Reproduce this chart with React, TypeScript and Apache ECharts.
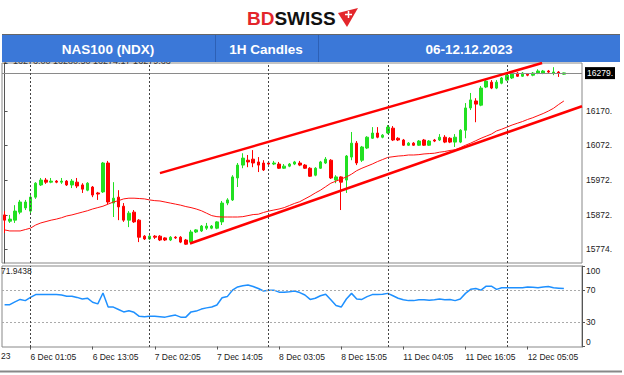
import React, { useEffect, useRef } from "react";
import * as echarts from "echarts";

// ---- data ----
const sessionDays = ["5 Dec", "6 Dec", "7 Dec", "8 Dec", "11 Dec", "12 Dec"];
const firstBar = "5 Dec 19:05";
const emptyBarsRight = 3;
const tickLabels = [
  "6 Dec 01:05", "6 Dec 13:05", "7 Dec 02:05", "7 Dec 14:05", "8 Dec 03:05",
  "8 Dec 15:05", "11 Dec 04:05", "11 Dec 16:05", "12 Dec 05:05",
];
const priceTicks = [15774, 15872, 15972, 16072, 16170];
const rsiTicks = [0, 30, 70, 100];
const rsiLevels = [70, 30];
const lastPrice = 16279;
const lastRsiText = "71.9438";
const yearStub = "23";
const infoText = "1  16276.00 16280.50 16274.17 16279.63";

// [open, close, low, high]
const candles = [
  [15872, 15857, 15820, 15883], [15854, 15860, 15849, 15872], [15857, 15883, 15849, 15900],
  [15880, 15909, 15874, 15915], [15892, 15909, 15886, 15915], [15883, 15923, 15877, 15929],
  [15923, 15963, 15918, 15966], [15958, 15972, 15955, 15978], [15972, 15966, 15961, 15978],
  [15966, 15969, 15963, 15978], [15969, 15966, 15963, 15972], [15966, 15969, 15961, 15978],
  [15969, 15958, 15955, 15972], [15958, 15969, 15949, 15975], [15966, 15955, 15949, 15978],
  [15958, 15946, 15935, 15963], [15943, 15963, 15940, 15966], [15952, 15929, 15923, 15955],
  [15935, 15932, 15915, 15938], [15938, 16021, 15935, 16024], [16021, 15909, 15903, 16027],
  [15906, 15920, 15866, 15966], [15923, 15895, 15857, 15943], [15897, 15857, 15852, 15906],
  [15857, 15877, 15837, 15883], [15880, 15852, 15849, 15886], [15857, 15808, 15794, 15860],
  [15811, 15803, 15800, 15814], [15803, 15811, 15800, 15814], [15811, 15808, 15803, 15814],
  [15811, 15800, 15797, 15814], [15806, 15800, 15797, 15808], [15800, 15808, 15797, 15811],
  [15808, 15806, 15803, 15811], [15808, 15794, 15791, 15811], [15800, 15788, 15786, 15803],
  [15794, 15823, 15791, 15829], [15823, 15829, 15820, 15831], [15826, 15840, 15823, 15843],
  [15834, 15840, 15829, 15849], [15834, 15840, 15831, 15843], [15834, 15852, 15831, 15854],
  [15852, 15906, 15843, 15912], [15906, 15915, 15900, 15920], [15915, 15981, 15912, 15986],
  [15978, 16015, 15952, 16021], [16015, 16035, 16006, 16049], [16029, 16024, 16009, 16044],
  [16032, 16021, 16009, 16058], [16024, 16015, 15995, 16038], [16021, 16001, 15998, 16029],
  [16021, 16018, 16015, 16024], [16018, 16021, 16015, 16027], [16018, 16006, 16004, 16024],
  [16006, 16012, 16004, 16018], [16012, 16018, 16009, 16021], [16018, 16024, 16015, 16027],
  [16021, 16015, 16012, 16027], [16015, 16006, 16004, 16018], [16006, 15983, 15981, 16009],
  [15986, 16006, 15983, 16009], [16006, 16024, 16004, 16027], [16021, 16032, 16018, 16038],
  [16029, 15978, 15975, 16032], [15972, 15981, 15963, 15986], [15981, 15966, 15886, 15983],
  [15972, 16041, 15935, 16044], [16038, 16078, 16029, 16110], [16078, 16021, 16015, 16084],
  [16029, 16067, 16024, 16070], [16064, 16095, 16061, 16098], [16092, 16107, 16090, 16124],
  [16107, 16095, 16092, 16124], [16095, 16101, 16092, 16104], [16107, 16124, 16104, 16130],
  [16121, 16087, 16084, 16127], [16092, 16087, 16084, 16095], [16087, 16072, 16070, 16090],
  [16072, 16078, 16070, 16081], [16078, 16072, 16070, 16081], [16072, 16084, 16070, 16087],
  [16087, 16072, 16070, 16090], [16072, 16084, 16070, 16087], [16087, 16084, 16081, 16090],
  [16087, 16095, 16084, 16104], [16095, 16081, 16078, 16101], [16092, 16081, 16078, 16095],
  [16081, 16095, 16067, 16104], [16081, 16115, 16078, 16118], [16115, 16179, 16092, 16193],
  [16179, 16202, 16173, 16222], [16199, 16190, 16138, 16207], [16187, 16236, 16184, 16242],
  [16239, 16256, 16236, 16259], [16253, 16236, 16233, 16259], [16236, 16253, 16233, 16259],
  [16250, 16265, 16247, 16268], [16259, 16273, 16256, 16276], [16265, 16279, 16262, 16285],
  [16279, 16270, 16268, 16282], [16270, 16279, 16268, 16282], [16276, 16273, 16270, 16279],
  [16273, 16279, 16270, 16282], [16279, 16285, 16276, 16290], [16279, 16285, 16276, 16288],
  [16285, 16282, 16279, 16288], [16279, 16282, 16273, 16296], [16282, 16279, 16268, 16285],
  [16276.0, 16279.63, 16274.17, 16280.5],
];

const maValues = [
  15829, 15826, 15826, 15826, 15830, 15834, 15843, 15849, 15853, 15857,
  15860, 15864, 15869, 15872, 15876, 15880, 15884, 15889, 15893, 15897,
  15903, 15909, 15913, 15918, 15920, 15920, 15919, 15918, 15915, 15913,
  15912, 15909, 15906, 15903, 15900, 15896, 15893, 15889, 15884, 15877,
  15870, 15867, 15866, 15866, 15866, 15866, 15867, 15870, 15873, 15874,
  15879, 15883, 15886, 15889, 15893, 15899, 15905, 15910, 15918, 15926,
  15935, 15943, 15953, 15963, 15969, 15975, 15981, 15989, 15999, 16006,
  16012, 16018, 16025, 16031, 16037, 16039, 16041, 16042, 16044, 16044,
  16045, 16047, 16048, 16049, 16052, 16054, 16057, 16059, 16065, 16072,
  16078, 16085, 16092, 16098, 16104, 16113, 16118, 16124, 16130, 16135,
  16140, 16146, 16151, 16157, 16163, 16170, 16178, 16189, 16199,
];

const rsiValues = [
  52, 52, 55.5, 58.5, 57, 61, 64.5, 64.5, 64.5, 64.5,
  64.5, 64, 62.5, 62.5, 61, 59, 60, 55, 53, 66.5,
  49, 49, 46, 43, 44.5, 42.5, 37.5, 37, 37.5, 37.5,
  37, 36.5, 38, 39, 36.5, 36.5, 43, 44, 46.5, 48,
  49, 51.5, 60.5, 62, 70, 74, 75.5, 76.5, 74.5, 72,
  69, 70, 70, 67.5, 67.5, 68, 69, 67, 64, 58.5,
  60, 63, 65, 58, 51, 49, 59, 66, 59, 58.5,
  62, 64.5, 64.5, 65, 66, 63, 60, 58, 57, 57,
  58, 58, 57.5, 58, 59, 58, 58.5, 57, 59, 66,
  71, 72, 70, 75, 75, 71, 73, 73, 73, 73,
  73, 74, 73.5, 73, 74, 74.5, 73, 72.5, 71.94,
];

// trend lines: [bar index, price]
const upperTrend = [[30, 15992], [103.8, 16308]];
const lowerTrend = [[35.8, 15790], [111.5, 16184]];

// ---- derived ----
const allSlots = sessionDays.flatMap((d) =>
  Array.from({ length: 23 }, (_, h) => `${d} ${String(h + 1).padStart(2, "0")}:05`)
);
const startIdx = allSlots.indexOf(firstBar);
const categories = allSlots.slice(startIdx, startIdx + candles.length + emptyBarsRight);
const dayStarts = categories.filter((c) => c.endsWith(" 01:05"));

const FONT = "Liberation Sans";
const GREEN = "#22e022";
const RED = "#ff0000";

export default function App() {
  const ref = useRef<HTMLDivElement>(null);
  useEffect(() => {
    if (!ref.current) return;
    const chart = echarts.init(ref.current, undefined, { renderer: "svg" });
    const vLines = (color: string) =>
      dayStarts.map((d) => ({
        xAxis: d,
        lineStyle: { color, type: [2, 2], width: 1 },
        label: { show: false },
      }));
    const rsiLabel = (v: number) =>
      Number(v) >= 100 ? `{t|${Math.round(v)}}` : Number(v) <= 0.5 ? `{b|0}` : `{m|${Math.round(v)}}`;
    const option: any = {
      animation: false,
      backgroundColor: "#fff",
      textStyle: { fontFamily: FONT },
      grid: [
        { left: 2, top: 63, width: 580, height: 200, show: true, borderColor: "#888", borderWidth: 1 },
        { left: 2, top: 266, width: 580, height: 81, show: true, borderColor: "#888", borderWidth: 1 },
      ],
      xAxis: [
        {
          type: "category", gridIndex: 0, data: categories, boundaryGap: true,
          axisLine: { show: false }, axisTick: { show: false }, axisLabel: { show: false }, splitLine: { show: false },
        },
        {
          type: "category", gridIndex: 1, data: categories, boundaryGap: true,
          axisLine: { show: false },
          axisTick: {
            show: true, alignWithLabel: true, length: 3, lineStyle: { color: "#555" },
            interval: (i: number, v: string) => tickLabels.includes(v),
          },
          axisLabel: {
            interval: (i: number, v: string) => tickLabels.includes(v),
            align: "left", fontSize: 8.5, color: "#222", margin: 5, fontFamily: FONT,
          },
          splitLine: { show: false },
        },
        { type: "value", gridIndex: 0, min: -0.5, max: categories.length - 0.5, show: false },
      ],
      yAxis: [
        {
          type: "value", gridIndex: 0, position: "right", min: 15734, max: 16308,
          splitLine: { show: false },
          axisLine: { show: true, lineStyle: { color: "#555" } },
          axisTick: { show: true, customValues: priceTicks, length: 3, lineStyle: { color: "#555" } },
          axisLabel: {
            customValues: priceTicks, formatter: (v: number) => `${v}.`,
            fontSize: 8.5, color: "#222", margin: 4, fontFamily: FONT,
          },
        },
        {
          type: "value", gridIndex: 1, position: "right", min: -0.6, max: 100,
          splitLine: { show: false },
          axisLine: { show: true, lineStyle: { color: "#555" } },
          axisTick: { show: true, customValues: rsiTicks, length: 3, lineStyle: { color: "#555" } },
          axisLabel: {
            customValues: rsiTicks.map((v) => (v === 0 ? 0.1 : v)),
            showMinLabel: true, showMaxLabel: true,
            formatter: rsiLabel,
            rich: {
              t: { padding: [9, 0, 0, 0], fontSize: 8.5, color: "#222", fontFamily: FONT },
              b: { padding: [0, 0, 9, 0], fontSize: 8.5, color: "#222", fontFamily: FONT },
              m: { fontSize: 8.5, color: "#222", fontFamily: FONT },
            },
            margin: 4,
          },
        },
      ],
      series: [
        {
          type: "candlestick", xAxisIndex: 0, yAxisIndex: 0, data: candles, barWidth: 3,
          itemStyle: { color: GREEN, color0: RED, borderColor: GREEN, borderColor0: RED, borderWidth: 1 },
          markLine: {
            silent: true, symbol: ["none", "none"], animation: false,
            data: [
              {
                yAxis: lastPrice,
                lineStyle: { color: "#8a8a8a", type: "solid", width: 1 },
                label: {
                  show: true, position: "end", formatter: `${lastPrice}.`, distance: 3,
                  backgroundColor: "#000", color: "#fff", fontSize: 8.5, padding: [2, 2, 1, 2], fontFamily: FONT,
                },
              },
              ...vLines("#444"),
            ],
          },
          z: 3,
        },
        {
          type: "line", xAxisIndex: 0, yAxisIndex: 0, data: maValues, symbol: "none",
          lineStyle: { color: "#ff1010", width: 1 }, z: 4,
        },
        {
          type: "line", xAxisIndex: 2, yAxisIndex: 0, data: upperTrend, symbol: "none",
          lineStyle: { color: RED, width: 2.5 }, z: 5,
        },
        {
          type: "line", xAxisIndex: 2, yAxisIndex: 0, data: lowerTrend, symbol: "none",
          lineStyle: { color: RED, width: 2.5 }, z: 5,
        },
        {
          type: "line", xAxisIndex: 1, yAxisIndex: 1, data: rsiValues, symbol: "none",
          lineStyle: { color: "#1e90ff", width: 1.5 },
          markLine: {
            silent: true, symbol: ["none", "none"], animation: false,
            data: [
              ...rsiLevels.map((v) => ({
                yAxis: v, lineStyle: { color: "#aaa", type: [2, 2], width: 1 }, label: { show: false },
              })),
              ...vLines("#444"),
            ],
          },
        },
      ],
      graphic: [
        { type: "rect", shape: { x: 0, y: 0, width: 624, height: 34 }, style: { fill: "#fff" }, z: 8, silent: true },
        {
          type: "text", x: 3, y: 56, z: 6, silent: true,
          style: { text: infoText, fontSize: 9, fontFamily: FONT, fill: "#333", verticalAlign: "top" },
        },
        {
          type: "text", x: 247, y: 18, z: 12, silent: true,
          style: {
            text: "{a|BD}{b|SWISS}", verticalAlign: "middle",
            rich: {
              a: { fontSize: 19, fontWeight: "bold", fill: "#e3262b", fontFamily: FONT },
              b: { fontSize: 19, fontWeight: "bold", fill: "#111", fontFamily: FONT },
            },
          },
        },
        {
          type: "polygon", z: 12, silent: true,
          shape: { points: [[338, 13], [358, 8], [347, 27]] },
          style: { fill: "#e3262b" },
        },
        { type: "line", z: 13, silent: true, shape: { x1: 345, y1: 14.5, x2: 352, y2: 14.5 }, style: { stroke: "#fff", lineWidth: 1.5 } },
        { type: "line", z: 13, silent: true, shape: { x1: 348.5, y1: 11, x2: 348.5, y2: 18 }, style: { stroke: "#fff", lineWidth: 1.5 } },
        { type: "line", z: 10, silent: true, shape: { x1: 2, y1: 34.5, x2: 620, y2: 34.5 }, style: { stroke: "#666", lineWidth: 1 } },
        { type: "rect", z: 10, silent: true, shape: { x: 2, y: 35, width: 618, height: 27 }, style: { fill: "#3b78d8" } },
        { type: "line", z: 11, silent: true, shape: { x1: 215.5, y1: 35, x2: 215.5, y2: 62 }, style: { stroke: "#2d60b5", lineWidth: 1 } },
        { type: "line", z: 11, silent: true, shape: { x1: 318.5, y1: 35, x2: 318.5, y2: 62 }, style: { stroke: "#2d60b5", lineWidth: 1 } },
        {
          type: "text", z: 11, silent: true, x: 108, y: 49,
          style: { text: "NAS100 (NDX)", fontSize: 13.5, fontWeight: "bold", fill: "#fff", fontFamily: FONT, align: "center", verticalAlign: "middle" },
        },
        {
          type: "text", z: 11, silent: true, x: 266, y: 49,
          style: { text: "1H Candles", fontSize: 13.5, fontWeight: "bold", fill: "#fff", fontFamily: FONT, align: "center", verticalAlign: "middle" },
        },
        {
          type: "text", z: 11, silent: true, x: 469, y: 49,
          style: { text: "06-12.12.2023", fontSize: 13.5, fontWeight: "bold", fill: "#fff", fontFamily: FONT, align: "center", verticalAlign: "middle" },
        },
        {
          type: "text", z: 11, silent: true, x: 1, y: 271,
          style: { text: lastRsiText, fontSize: 8.5, fill: "#222", fontFamily: FONT, verticalAlign: "middle" },
        },
        {
          type: "text", z: 11, silent: true, x: 1, y: 356,
          style: { text: yearStub, fontSize: 8.5, fill: "#222", fontFamily: FONT, verticalAlign: "middle" },
        },
        { type: "line", z: 10, silent: true, shape: { x1: 0, y1: 371.5, x2: 622, y2: 371.5 }, style: { stroke: "#888", lineWidth: 2 } },
      ],
    };
    chart.setOption(option);
    return () => chart.dispose();
  }, []);
  return (
    <div
      ref={ref}
      style={{ position: "absolute", left: 0, top: 0, width: 624, height: 375, background: "#fff" }}
    />
  );
}
